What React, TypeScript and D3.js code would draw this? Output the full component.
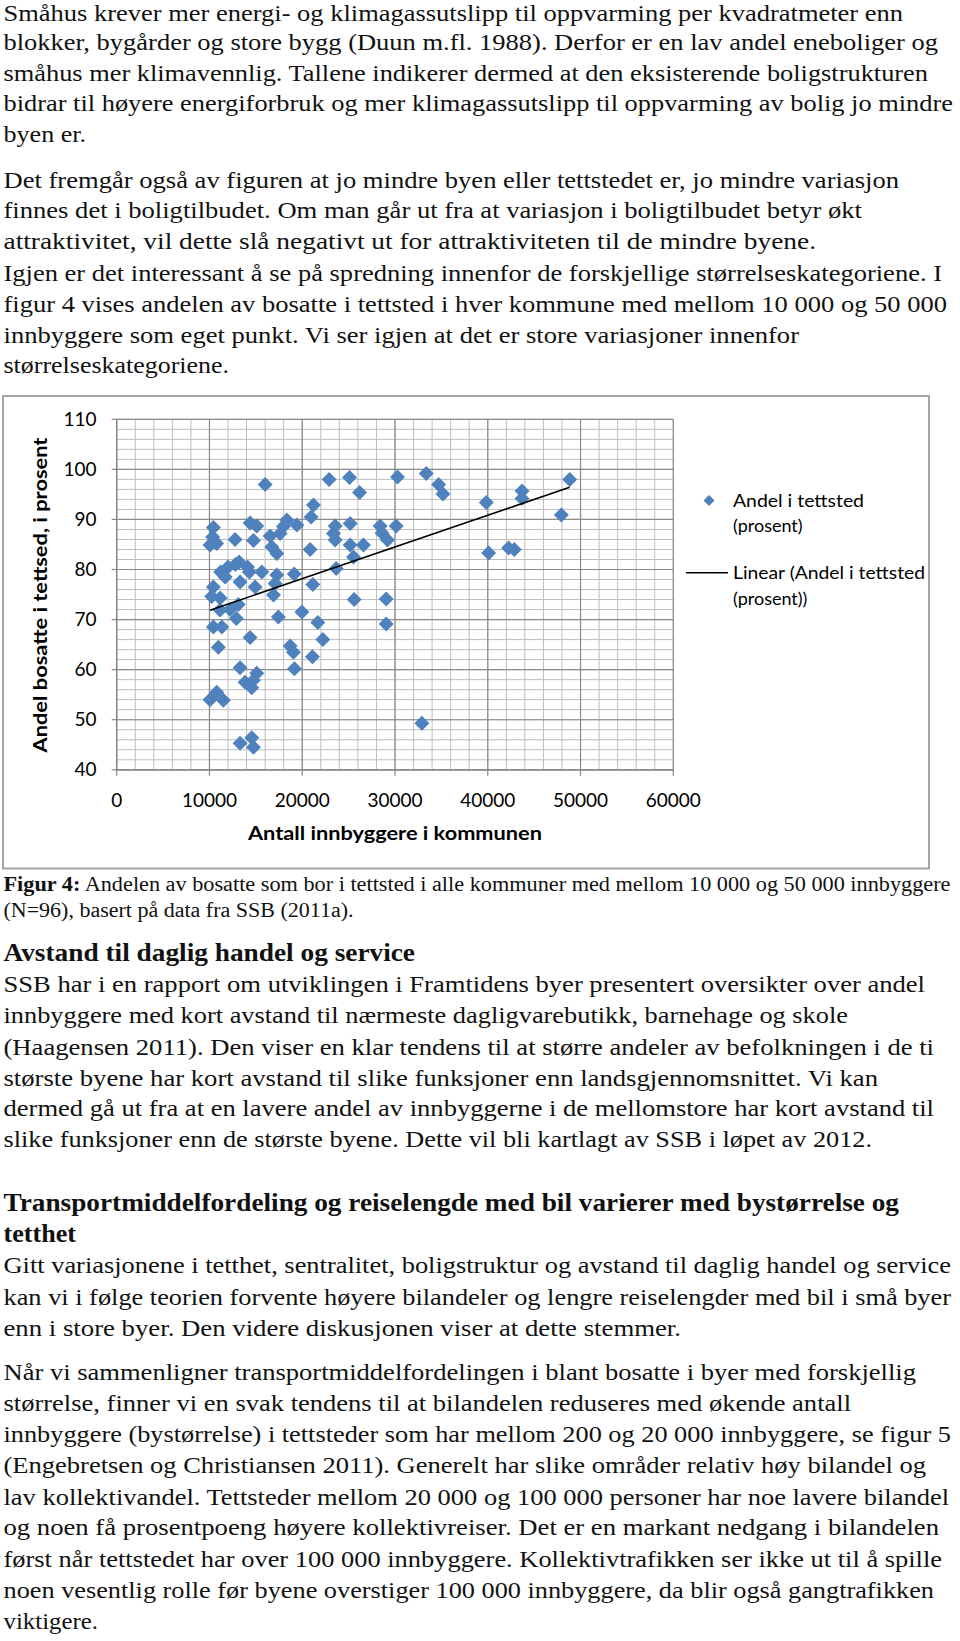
import React from "react";
import * as d3 from "d3";

// ---------- Data ----------
const population: number[] = [
  10420, 10350, 10780, 10060, 10420, 10240, 11140, 11140, 10420, 11330, 10960, 10780, 10060, 11500,
  11200, 11700, 12000, 12800, 13200, 14100, 14300,
  13100, 12220, 12900,
  12760, 14380, 15100, 14740, 16000, 13300, 14920, 15640, 14380, 13300, 13840, 14740, 15100, 14560, 13300, 14560, 14740,
  16540, 16720, 17260, 17970, 18340, 17620, 19420, 17260, 17080, 16900, 19130, 17430, 19960, 18700, 19050, 19160,
  20850, 21210, 20960, 21140, 21680, 22220, 21100, 22900,
  23550, 23370, 23550, 23660, 25170, 25170, 25530, 26600, 25100, 26180, 25600,
  28400, 28590, 29190, 30130, 30270, 29050, 29050,
  33370, 34700, 35170, 32900, 39840, 40090, 42240, 42860, 43690, 43690, 47930, 48830,
];
const sharePct: number[] = [
  88.4, 86.5, 85.2, 84.9, 76.5, 74.6, 74.3, 71.9, 68.5, 68.5, 64.5, 55.5, 54.0, 53.9,
  79.5, 78.5, 80.5, 81.0, 81.5, 80.5, 79.5,
  73.0, 72.0, 70.2,
  86.0, 89.3, 88.7, 85.8, 97.0, 77.5, 76.5, 79.5, 66.4, 60.4, 57.5, 57.9, 59.3, 56.4, 45.3, 46.4, 44.5,
  86.7, 84.5, 83.2, 88.6, 89.9, 87.2, 88.9, 78.9, 77.2, 74.9, 79.1, 70.5, 71.5, 64.7, 63.5, 60.2,
  84.0, 92.9, 90.5, 77.0, 69.4, 66.0, 62.6, 98.0,
  88.7, 87.2, 85.9, 80.2, 89.2, 84.9, 82.5, 84.9, 98.4, 95.4, 74.0,
  88.7, 87.3, 85.9, 88.7, 98.5, 74.1, 69.1,
  99.2, 97.0, 95.1, 49.3, 93.4, 83.3, 84.3, 84.0, 95.7, 94.2, 90.9, 98.0,
];
const xTicks: number[] = [0, 10000, 20000, 30000, 40000, 50000, 60000];
const yTicks: number[] = [40, 50, 60, 70, 80, 90, 100, 110];
const xTitle = "Antall innbyggere i kommunen";
const yTitle = "Andel bosatte i tettsed, i prosent";
const legendSeries = ["Andel i tettsted", "(prosent)"];
const legendTrend = ["Linear (Andel i tettsted", "(prosent))"];

// Page text lines
type Line = { t: string; y: number; w: number; k?: "h" | "cap" };
const para1: Line[] = [
  { t: "Småhus krever mer energi- og klimagassutslipp til oppvarming per kvadratmeter enn", y: 20.5, w: 903 },
  { t: "blokker, bygårder og store bygg (Duun m.fl. 1988). Derfor er en lav andel eneboliger og", y: 50, w: 938 },
  { t: "småhus mer klimavennlig. Tallene indikerer dermed at den eksisterende boligstrukturen", y: 80.5, w: 928 },
  { t: "bidrar til høyere energiforbruk og mer klimagassutslipp til oppvarming av bolig jo mindre", y: 111, w: 953 },
  { t: "byen er.", y: 141.5, w: 86 },
  { t: "Det fremgår også av figuren at jo mindre byen eller tettstedet er, jo mindre variasjon", y: 187.5, w: 899 },
  { t: "finnes det i boligtilbudet. Om man går ut fra at variasjon i boligtilbudet betyr økt", y: 218, w: 862 },
  { t: "attraktivitet, vil dette slå negativt ut for attraktiviteten til de mindre byene.", y: 249, w: 816 },
  { t: "Igjen er det interessant å se på spredning innenfor de forskjellige størrelseskategoriene. I", y: 280.5, w: 942 },
  { t: "figur 4 vises andelen av bosatte i tettsted i hver kommune med mellom 10 000 og 50 000", y: 312, w: 947 },
  { t: "innbyggere som eget punkt. Vi ser igjen at det er store variasjoner innenfor", y: 342.5, w: 799 },
  { t: "størrelseskategoriene.", y: 373, w: 229 },
];
const para2: Line[] = [
  { t: "Avstand til daglig handel og service", y: 961, w: 415, k: "h" },
  { t: "SSB har i en rapport om utviklingen i Framtidens byer presentert oversikter over andel", y: 991.5, w: 925 },
  { t: "innbyggere med kort avstand til nærmeste dagligvarebutikk, barnehage og skole", y: 1023, w: 848 },
  { t: "(Haagensen 2011). Den viser en klar tendens til at større andeler av befolkningen i de ti", y: 1054.5, w: 934 },
  { t: "største byene har kort avstand til slike funksjoner enn landsgjennomsnittet. Vi kan", y: 1085.5, w: 878 },
  { t: "dermed gå ut fra at en lavere andel av innbyggerne i de mellomstore har kort avstand til", y: 1116, w: 934 },
  { t: "slike funksjoner enn de største byene. Dette vil bli kartlagt av SSB i løpet av 2012.", y: 1146.5, w: 872 },
  { t: "Transportmiddelfordeling og reiselengde med bil varierer med bystørrelse og", y: 1210.5, w: 899, k: "h" },
  { t: "tetthet", y: 1241.5, w: 76, k: "h" },
  { t: "Gitt variasjonene i tetthet, sentralitet, boligstruktur og avstand til daglig handel og service", y: 1273, w: 951 },
  { t: "kan vi i følge teorien forvente høyere bilandeler og lengre reiselengder med bil i små byer", y: 1304.5, w: 951 },
  { t: "enn i store byer. Den videre diskusjonen viser at dette stemmer.", y: 1336, w: 681 },
  { t: "Når vi sammenligner transportmiddelfordelingen i blant bosatte i byer med forskjellig", y: 1380, w: 916 },
  { t: "størrelse, finner vi en svak tendens til at bilandelen reduseres med økende antall", y: 1410.5, w: 851 },
  { t: "innbyggere (bystørrelse) i tettsteder som har mellom 200 og 20 000 innbyggere, se figur 5", y: 1441.5, w: 951 },
  { t: "(Engebretsen og Christiansen 2011). Generelt har slike områder relativ høy bilandel og", y: 1473, w: 926 },
  { t: "lav kollektivandel. Tettsteder mellom 20 000 og 100 000 personer har noe lavere bilandel", y: 1504.5, w: 949 },
  { t: "og noen få prosentpoeng høyere kollektivreiser. Det er en markant nedgang i bilandelen", y: 1535, w: 939 },
  { t: "først når tettstedet har over 100 000 innbyggere. Kollektivtrafikken ser ikke ut til å spille", y: 1566.5, w: 942 },
  { t: "noen vesentlig rolle før byene overstiger 100 000 innbyggere, da blir også gangtrafikken", y: 1598, w: 934 },
  { t: "viktigere.", y: 1629, w: 98 },
];
const captionBold = "Figur 4:";
const captionRest = " Andelen av bosatte som bor i tettsted i alle kommuner med mellom 10 000 og 50 000 innbyggere";
const captionLine2 = "(N=96), basert på data fra SSB (2011a).";

// ---------- Layout ----------
const W = 960;
const H = 1641;
const TX = 3.5;
const plot = { left: 116.7, right: 673.3, top: 419.3, bottom: 769.8 };
const serif = "'Liberation Serif', 'Times New Roman', Tinos, Times, serif";
const sans = "Lato, 'Open Sans', sans-serif";
const blue = "#4F81BD";

function diamond(r: number) {
  return `M0,${-r}L${r},0L0,${r}L${-r},0Z`;
}

export default function App() {
  const x = d3.scaleLinear().domain([0, 60000]).range([plot.left, plot.right]);
  const y = d3.scaleLinear().domain([40, 110]).range([plot.bottom, plot.top]);

  const xMinor = d3.range(0, 60001, 2000);
  const yMinor = d3.range(40, 110.001, 2);

  // linear regression (trend line)
  const n = population.length;
  const mx = d3.mean(population) as number;
  const my = d3.mean(sharePct) as number;
  let sxy = 0, sxx = 0;
  for (let i = 0; i < n; i++) {
    sxy += (population[i] - mx) * (sharePct[i] - my);
    sxx += (population[i] - mx) ** 2;
  }
  const slope = sxy / sxx;
  const icpt = my - slope * mx;
  const [xmin, xmax] = d3.extent(population) as [number, number];
  const trend = d3.line<number>().x((d) => x(d)).y((d) => y(icpt + slope * d))([xmin, xmax]) as string;

  const renderLine = (l: Line, i: number) => (
    <text
      key={i}
      x={TX}
      y={l.y}
      style={{ fontFamily: serif }}
      fontSize={l.k === "h" ? 24.5 : 23.5}
      fontWeight={l.k === "h" ? "bold" : "normal"}
      textLength={l.w - TX}
      lengthAdjust="spacingAndGlyphs"
      fill="#111"
    >
      {l.t}
    </text>
  );

  return (
    <svg width={W} height={H} style={{ position: "absolute", left: 0, top: 0, background: "#fff" }}>
      <rect x={0} y={0} width={W} height={H} fill="#fff" />
      {para1.map(renderLine)}

      {/* chart frame */}
      <rect x={3} y={396} width={926} height={472.5} fill="#fff" stroke="#a5a5a5" strokeWidth={2} />

      {/* minor grid */}
      <g stroke="#bdbdbd" strokeWidth={1}>
        {xMinor.map((v) => (
          <line key={"xm" + v} x1={x(v)} x2={x(v)} y1={plot.top} y2={plot.bottom} />
        ))}
        {yMinor.map((v) => (
          <line key={"ym" + v} x1={plot.left} x2={plot.right} y1={y(v)} y2={y(v)} />
        ))}
      </g>
      {/* major grid */}
      <g stroke="#8a8a8a" strokeWidth={1.2}>
        {xTicks.map((v) => (
          <line key={"xM" + v} x1={x(v)} x2={x(v)} y1={plot.top} y2={plot.bottom} />
        ))}
        {yTicks.map((v) => (
          <line key={"yM" + v} x1={plot.left} x2={plot.right} y1={y(v)} y2={y(v)} />
        ))}
      </g>
      {/* axes + ticks */}
      <g stroke="#868686" strokeWidth={1.2}>
        <line x1={plot.left} x2={plot.left} y1={plot.top} y2={plot.bottom} />
        <line x1={plot.left} x2={plot.right} y1={plot.bottom} y2={plot.bottom} />
        {xTicks.map((v) => (
          <line key={"xt" + v} x1={x(v)} x2={x(v)} y1={plot.bottom} y2={plot.bottom + 6} />
        ))}
        {yTicks.map((v) => (
          <line key={"yt" + v} x1={plot.left - 5} x2={plot.left} y1={y(v)} y2={y(v)} />
        ))}
      </g>

      {/* tick labels */}
      <g fontFamily={sans} fontSize={19} fill="#000">
        {yTicks.map((v) => (
          <text key={"yl" + v} x={96.5} y={y(v) + 6.5} textAnchor="end">
            {v}
          </text>
        ))}
        {xTicks.map((v) => (
          <text key={"xl" + v} x={x(v)} y={807} textAnchor="middle">
            {v}
          </text>
        ))}
      </g>

      {/* axis titles */}
      <text x={395} y={839.5} textAnchor="middle" fontFamily={sans} fontSize={19} fontWeight="bold" textLength={294} lengthAdjust="spacingAndGlyphs">
        {xTitle}
      </text>
      <text
        transform={`translate(47,595) rotate(-90)`}
        textAnchor="middle"
        fontFamily={sans}
        fontSize={19}
        fontWeight="bold"
        textLength={315}
        lengthAdjust="spacingAndGlyphs"
      >
        {yTitle}
      </text>

      {/* points */}
      <g fill={blue}>
        {population.map((p, i) => (
          <path key={"pt" + i} d={diamond(7.5)} transform={`translate(${x(p)},${y(sharePct[i])})`} />
        ))}
      </g>
      {/* trend line */}
      <path d={trend} fill="none" stroke="#000" strokeWidth={1.6} />

      {/* legend */}
      <path d={diamond(5.5)} fill={blue} transform="translate(709,500.5)" />
      <g fontFamily={sans} fontSize={18} fill="#000">
        <text x={733} y={506.5} textLength={131} lengthAdjust="spacingAndGlyphs">{legendSeries[0]}</text>
        <text x={733} y={532}>{legendSeries[1]}</text>
        <text x={733} y={579} textLength={192} lengthAdjust="spacingAndGlyphs">{legendTrend[0]}</text>
        <text x={733} y={604.5}>{legendTrend[1]}</text>
      </g>
      <line x1={686} x2={728} y1={572.8} y2={572.8} stroke="#000" strokeWidth={1.6} />

      {/* caption */}
      <text x={TX} y={891} style={{ fontFamily: serif }} fontSize={20} textLength={947} lengthAdjust="spacingAndGlyphs" fill="#111">
        <tspan fontWeight="bold">{captionBold}</tspan>
        {captionRest}
      </text>
      <text x={TX} y={917} style={{ fontFamily: serif }} fontSize={20} textLength={350} lengthAdjust="spacingAndGlyphs" fill="#111">
        {captionLine2}
      </text>

      {para2.map(renderLine)}
    </svg>
  );
}
